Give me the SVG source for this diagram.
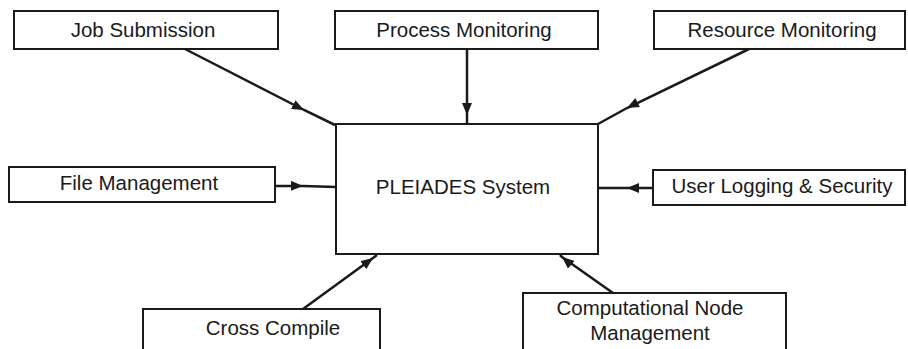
<svg xmlns="http://www.w3.org/2000/svg" width="908" height="349" viewBox="0 0 908 349">
<defs>
<marker id="ah" viewBox="0 0 12 10" refX="12" refY="5" markerWidth="12" markerHeight="10" markerUnits="userSpaceOnUse" orient="auto">
<path d="M0,0 L12,5 L0,10 z" fill="#1a1a1a"/>
</marker>
<style>
.box{fill:#fff;stroke:#1a1a1a;stroke-width:2}
.t{font-family:"Liberation Sans",Arial,sans-serif;font-size:20.5px;fill:#1a1a1a;text-anchor:middle}
.c{fill:none;stroke:#1a1a1a;stroke-width:2.5;marker-mid:url(#ah)}
</style>
</defs>
<rect width="908" height="349" fill="#fff"/>
<g id="connectors">
<path class="c" d="M185,49 L304,110 L335,125"/>
<path class="c" d="M467,49 L467,115 L467,124"/>
<path class="c" d="M749,49 L627,108 L598,124"/>
<path class="c" d="M275,186 L303,186 L336,187"/>
<path class="c" d="M653,188 L627,188 L598,188"/>
<path class="c" d="M303,309 L373,258 L377,255"/>
<path class="c" d="M613,293 L562,257 L560,255"/>
</g>
<g id="pleiades"><rect class="box" x="336" y="124" width="262" height="130"/><text class="t" x="463" y="194">PLEIADES System</text></g>
<g id="job"><rect class="box" x="14" y="11" width="264" height="38"/><text class="t" x="143" y="37">Job Submission</text></g>
<g id="process"><rect class="box" x="335" y="11" width="263" height="38"/><text class="t" x="464" y="37">Process Monitoring</text></g>
<g id="resource"><rect class="box" x="654" y="11" width="251" height="38"/><text class="t" x="782" y="37">Resource Monitoring</text></g>
<g id="file"><rect class="box" x="9" y="167" width="266" height="35"/><text class="t" x="139" y="190">File Management</text></g>
<g id="user"><rect class="box" x="653" y="170" width="252" height="35"/><text class="t" x="782" y="193">User Logging &amp; Security</text></g>
<g id="cross"><rect class="box" x="143" y="309" width="237" height="50"/><text class="t" x="273" y="335">Cross Compile</text></g>
<g id="compnode"><rect class="box" x="523" y="293" width="263" height="66"/><text class="t" x="650" y="315">Computational Node</text><text class="t" x="650" y="340">Management</text></g>
</svg>
